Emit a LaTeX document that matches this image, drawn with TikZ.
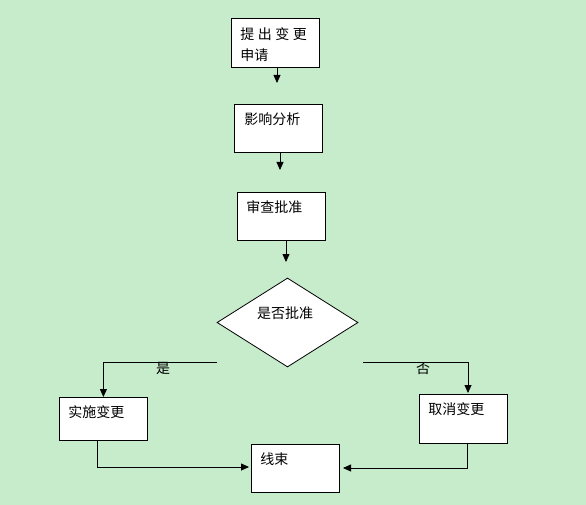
\documentclass[tikz,border=0pt]{standalone}
\usepackage{fontspec}
\setmainfont{Noto Sans CJK SC}
\usetikzlibrary{arrows.meta,shapes.geometric}
\definecolor{bg}{HTML}{C7ECCB}
\newcommand\bxt[4]{\parbox[t][#2pt][t]{88pt}{\vspace*{#3pt}\hspace*{#4pt}#1}}
\begin{document}
\begin{tikzpicture}[x=1pt,y=-1pt,
  box/.style={draw=black,line width=0.8pt,fill=white,inner sep=0pt,anchor=north west,font=\fontsize{14}{19}\selectfont},
  arr/.style={draw=black,line width=0.8pt,-{Triangle[length=8pt,width=7pt]}},
  lbl/.style={font=\fontsize{14}{16}\selectfont,inner sep=0pt}]
\fill[bg] (0,0) rectangle (586,505);
\useasboundingbox (0,0) rectangle (586,505);
\node[box] (b1) at (231,18) {\bxt{提\hspace{3.5pt}出\hspace{3.5pt}变\hspace{3.5pt}更\\[2.5pt]\hspace*{9pt}申请}{49}{9}{9}};
\node[box] (b2) at (234,104) {\bxt{影响分析}{48}{8.5}{10}};
\node[box] (b3) at (237,192) {\bxt{审查批准}{48}{8.5}{9}};
\node[draw=black,line width=0.8pt,fill=white,diamond,minimum width=141pt,minimum height=89pt,inner sep=0pt] (d) at (287.5,322.5) {};
\node[lbl] (dt) at (285,313) {是否批准};
\node[box] (b4) at (59,397) {\bxt{实施变更}{43}{8.5}{9}};
\node[box] (b5) at (419,394) {\bxt{取消变更}{49}{8.5}{9}};
\node[box] (b6) at (251,444) {\bxt{线束}{48}{8.5}{9}};
\node[lbl] (ly) at (163,368) {是};
\node[lbl] (ln) at (423,369) {否};
\coordinate (a1) at (277,83);
\coordinate (a2) at (280,170);
\coordinate (a3) at (286,262);
\coordinate (ys) at (217,362);
\coordinate (ns) at (363,362);
\coordinate (ne) at (468,393);
\coordinate (le) at (249,467);
\coordinate (re) at (343,468);
\draw[arr] (b1.south -| a1) -- (a1);
\draw[arr] (b2.south -| a2) -- (a2);
\draw[arr] (b3.south -| a3) -- (a3);
\draw[arr] (ys) -| (b4.north);
\draw[arr] (ns) -| (ne);
\draw[arr] ([xshift=-6pt]b4.south) |- (le);
\draw[arr] ([xshift=4pt]b5.south) |- (re);
\end{tikzpicture}
\end{document}
